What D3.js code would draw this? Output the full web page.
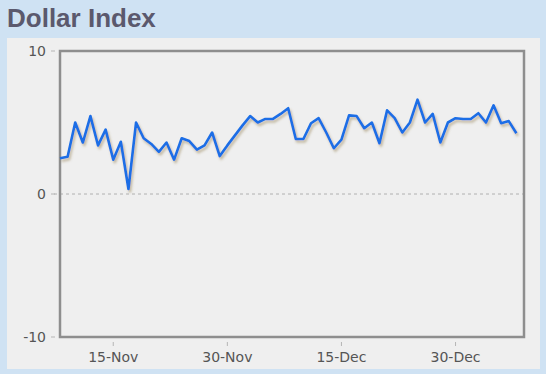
<!DOCTYPE html>
<html>
<head>
<meta charset="utf-8">
<script src="https://cdn.jsdelivr.net/npm/d3@7"></script>
<style>
    html, body {
        margin: 0;
        padding: 0;
        background: #cfe2f3;
    }
    svg {
        display: block;
    }
    .tick-label {
        font-family: "DejaVu Sans", Verdana, sans-serif;
        font-size: 14px;
        fill: #555;
    }
</style>
</head>
<body>
<svg id="chart" width="546" height="374"></svg>
<script>
// daily readings, 8-Nov to 7-Jan
const firstDay = new Date(2012, 10, 8);
const lastDay = new Date(2013, 0, 7);

const dollarValues = [
    2.5, 2.6, 5.0, 3.6, 5.45, 3.4, 4.5, 2.4, 3.65, 0.35,
    5.0, 3.9, 3.5, 2.95, 3.6, 2.4, 3.9, 3.7, 3.1, 3.4,
    4.3, 2.65, 3.4, 4.1, 4.8, 5.45, 5.0, 5.25, 5.25, 5.6,
    6.0, 3.85, 3.85, 4.95, 5.3, 4.3, 3.2, 3.8, 5.5, 5.45,
    4.6, 5.0, 3.55, 5.85, 5.3, 4.3, 5.0, 6.6, 5.0, 5.6,
    3.6, 5.0, 5.3, 5.25, 5.25, 5.65, 5.0, 6.2, 4.95, 5.1,
    4.25
];

const xTickDates = [
    new Date(2012, 10, 15),
    new Date(2012, 10, 30),
    new Date(2012, 11, 15),
    new Date(2012, 11, 30)
];

const yTickValues = [-10, 0, 10];

const days = d3.timeDay.range(firstDay, d3.timeDay.offset(lastDay, 1));
const points = days.map(function(day, i) {
    return { date: day, value: dollarValues[i] };
});

const plot = { left: 60, right: 524, top: 51, bottom: 337 };

const svg = d3.select("#chart");

const defs = svg.append("defs");
const shadow = defs.append("filter")
    .attr("id", "line-shadow")
    .attr("x", "-5%")
    .attr("y", "-20%")
    .attr("width", "110%")
    .attr("height", "140%");
shadow.append("feDropShadow")
    .attr("dx", 1.5)
    .attr("dy", 2.5)
    .attr("stdDeviation", 1.3)
    .attr("flood-color", "#8a7440")
    .attr("flood-opacity", 0.45);

// title
svg.append("text")
    .attr("x", 7)
    .attr("y", 27)
    .attr("font-family", "'Liberation Sans', Arial, sans-serif")
    .attr("font-weight", "bold")
    .attr("font-size", 26)
    .attr("fill", "#5b596d")
    .text("Dollar Index");

// grey panel
svg.append("rect")
    .attr("x", 7)
    .attr("y", 38)
    .attr("width", 533)
    .attr("height", 331)
    .attr("fill", "#efefef");

const x = d3.scaleTime()
    .domain([firstDay, d3.timeDay.offset(lastDay, 1)])
    .range([plot.left, plot.right]);

const y = d3.scaleLinear()
    .domain([-10, 10])
    .range([plot.bottom, plot.top]);

// zero line
svg.append("line")
    .attr("x1", plot.left - 6)
    .attr("x2", plot.right)
    .attr("y1", y(0))
    .attr("y2", y(0))
    .attr("stroke", "#b0b0b0")
    .attr("stroke-width", 1)
    .attr("stroke-dasharray", "3,3");

// y axis labels
const yAxis = svg.append("g");
yTickValues.forEach(function(v) {
    yAxis.append("line")
        .attr("x1", plot.left - 9)
        .attr("x2", plot.left - 5)
        .attr("y1", y(v))
        .attr("y2", y(v))
        .attr("stroke", "#b5b5b5");

    yAxis.append("text")
        .attr("class", "tick-label")
        .attr("x", plot.left - 14)
        .attr("y", y(v))
        .attr("dy", "0.35em")
        .attr("text-anchor", "end")
        .text(v);
});

// x axis labels
const xAxis = svg.append("g");
const formatDay = d3.timeFormat("%d-%b");
xTickDates.forEach(function(d) {
    xAxis.append("line")
        .attr("x1", x(d))
        .attr("x2", x(d))
        .attr("y1", plot.bottom + 5)
        .attr("y2", plot.bottom + 9)
        .attr("stroke", "#b5b5b5");

    xAxis.append("text")
        .attr("class", "tick-label")
        .attr("x", x(d))
        .attr("y", plot.bottom + 25)
        .attr("text-anchor", "middle")
        .text(formatDay(d));
});

// frame
svg.append("rect")
    .attr("x", plot.left)
    .attr("y", plot.top)
    .attr("width", plot.right - plot.left)
    .attr("height", plot.bottom - plot.top)
    .attr("fill", "none")
    .attr("stroke", "#8e8e8e")
    .attr("stroke-width", 2.5);

const line = d3.line()
    .x(function(d) { return x(d.date); })
    .y(function(d) { return y(d.value); });

svg.append("path")
    .datum(points)
    .attr("d", line)
    .attr("fill", "none")
    .attr("stroke", "#1b6ee6")
    .attr("stroke-width", 2.6)
    .attr("stroke-linejoin", "round")
    .attr("filter", "url(#line-shadow)");
</script>
</body>
</html>
